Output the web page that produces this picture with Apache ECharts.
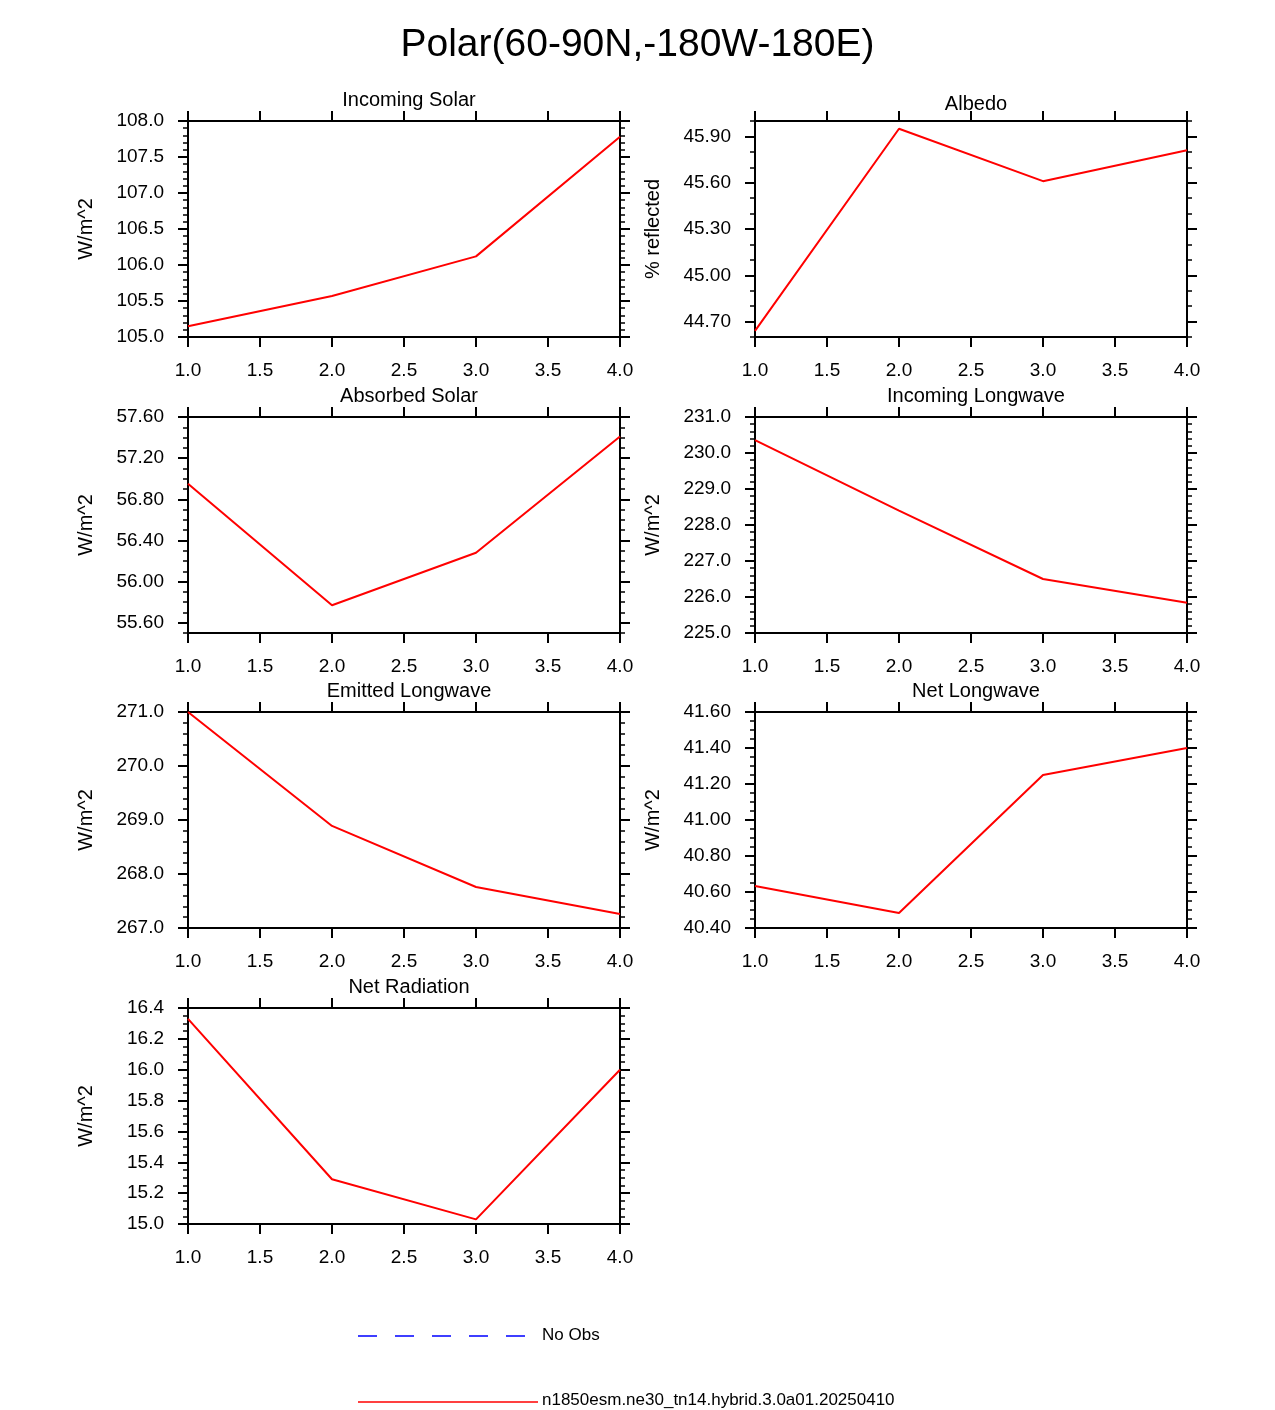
<!DOCTYPE html>
<html>
<head>
<meta charset="utf-8">
<script src="https://cdn.jsdelivr.net/npm/echarts@6/dist/echarts.min.js"></script>
<style>html,body{margin:0;padding:0;background:#fff}#chart{width:1275px;height:1410px}</style>
</head>
<body>
<div id="chart"></div>
<script>
// x 轴
const xValues = [1, 2, 3, 4];

// 各子图数据
const incomingSolar = [105.15, 105.57, 106.12, 107.78];
const albedo = [44.64, 45.95, 45.61, 45.81];
const absorbedSolar = [56.95, 55.77, 56.28, 57.41];
const incomingLongwave = [230.36, 228.4, 226.5, 225.84];
const emittedLongwave = [271.0, 268.89, 267.76, 267.26];
const netLongwave = [40.633, 40.483, 41.25, 41.40];
const netRadiation = [16.33, 15.29, 15.03, 16.0];

// 子图标题、单位、刻度
const titles = ['Incoming Solar', 'Albedo', 'Absorbed Solar', 'Incoming Longwave', 'Emitted Longwave', 'Net Longwave', 'Net Radiation'];
const yNames = ['W/m^2', '% reflected', 'W/m^2', 'W/m^2', 'W/m^2', 'W/m^2', 'W/m^2'];
const yMin = [105.0, 44.6, 55.5, 225.0, 267.0, 40.4, 15.0];
const yMax = [108.0, 46.0, 57.6, 231.0, 271.0, 41.6, 16.4];
const yMajorStart = [105.0, 44.7, 55.6, 225.0, 267.0, 40.4, 15.0];
const yMajorStep = [0.5, 0.3, 0.4, 1.0, 1.0, 0.2, 0.2];
const yMinorStep = [0.1, 0.1, 0.1, 0.2, 0.2, 0.05, 0.05];
const yDecimals = [1, 2, 2, 1, 1, 2, 1];
const seriesData = [incomingSolar, albedo, absorbedSolar, incomingLongwave, emittedLongwave, netLongwave, netRadiation];

const gridLeft = [188, 755];
const gridTop = [121, 417, 712, 1008];
const font = 'Liberation Sans, Arial, sans-serif';

function steps(start, end, step) {
    const out = [];
    for (let v = start; v <= end + step * 1e-6; v += step) out.push(Math.round(v * 1e6) / 1e6);
    return out;
}

const grid = [], xAxis = [], yAxis = [], series = [], title = [];
title.push({ text: 'Polar(60-90N,-180W-180E)', left: 'center', top: 21, textStyle: { fontFamily: font, fontSize: 39, fontWeight: 'normal', color: '#000' } });

for (let i = 0; i < seriesData.length; i++) {
    const left = gridLeft[i % 2], top = gridTop[Math.floor(i / 2)];
    grid.push({ left: left, top: top, width: 432, height: 216 });
    title.push({ text: titles[i], left: left + 216, textAlign: 'center', top: top - (i === 1 ? 32 : 36), textStyle: { fontFamily: font, fontSize: 20, fontWeight: 'normal', color: '#000' } });
    const line = { show: true, lineStyle: { color: '#000', width: 2 } };
    const base = { type: 'value', gridIndex: i, min: 1, max: 4, interval: 0.5, splitLine: { show: false }, axisLine: line };
    xAxis.push(Object.assign({}, base, { position: 'bottom', axisTick: { length: 10, lineStyle: { width: 2, color: '#000' } },
        axisLabel: { margin: 24, fontFamily: font, fontSize: 19, color: '#000', formatter: v => v.toFixed(1) } }));
    xAxis.push(Object.assign({}, base, { position: 'top', axisTick: { length: 10, lineStyle: { width: 2, color: '#000' } }, axisLabel: { show: false } }));
    const majors = steps(yMajorStart[i], yMax[i], yMajorStep[i]);
    const minors = steps(yMin[i], yMax[i], yMinorStep[i]);
    const yb = { type: 'value', gridIndex: i, min: yMin[i], max: yMax[i], splitLine: { show: false } };
    const yFirst = yAxis.length;
    ['left', 'right'].forEach(pos => {
        yAxis.push(Object.assign({}, yb, { position: pos, axisLine: line,
            name: pos === 'left' ? yNames[i] : '', nameLocation: 'middle', nameGap: 92, nameRotate: 90,
            nameTextStyle: { fontFamily: font, fontSize: 20, color: '#000' },
            axisTick: { length: 10, customValues: majors, lineStyle: { width: 2, color: '#000' } },
            axisLabel: { show: pos === 'left', margin: 24, customValues: majors, fontFamily: font, fontSize: 19, color: '#000', formatter: v => v.toFixed(yDecimals[i]) } }));
        yAxis.push(Object.assign({}, yb, { position: pos, axisLine: { show: false },
            axisTick: { length: 5, customValues: minors, lineStyle: { width: 1.5, color: '#000' } }, axisLabel: { show: false } }));
    });
    series.push({ type: 'line', xAxisIndex: i * 2, yAxisIndex: yFirst, symbol: 'none', silent: true,
        lineStyle: { color: '#ff0000', width: 2 }, data: xValues.map((x, k) => [x, seriesData[i][k]]) });
}

// 图例
const graphic = [
    { type: 'line', shape: { x1: 358, y1: 1336, x2: 538, y2: 1336 }, style: { stroke: '#0000ff', lineWidth: 1.5, lineDash: [19, 18] } },
    { type: 'text', left: 542, top: 1327, style: { text: 'No Obs', font: '17px ' + font, fill: '#000' } },
    { type: 'line', shape: { x1: 358, y1: 1402, x2: 538, y2: 1402 }, style: { stroke: '#ff0000', lineWidth: 1.5 } },
    { type: 'text', left: 542, top: 1392, style: { text: 'n1850esm.ne30_tn14.hybrid.3.0a01.20250410', font: '17px ' + font, fill: '#000' } }
];

const chart = echarts.init(document.getElementById('chart'));
chart.setOption({ animation: false, backgroundColor: '#fff', title, grid, xAxis, yAxis, series, graphic });
</script>
</body>
</html>
